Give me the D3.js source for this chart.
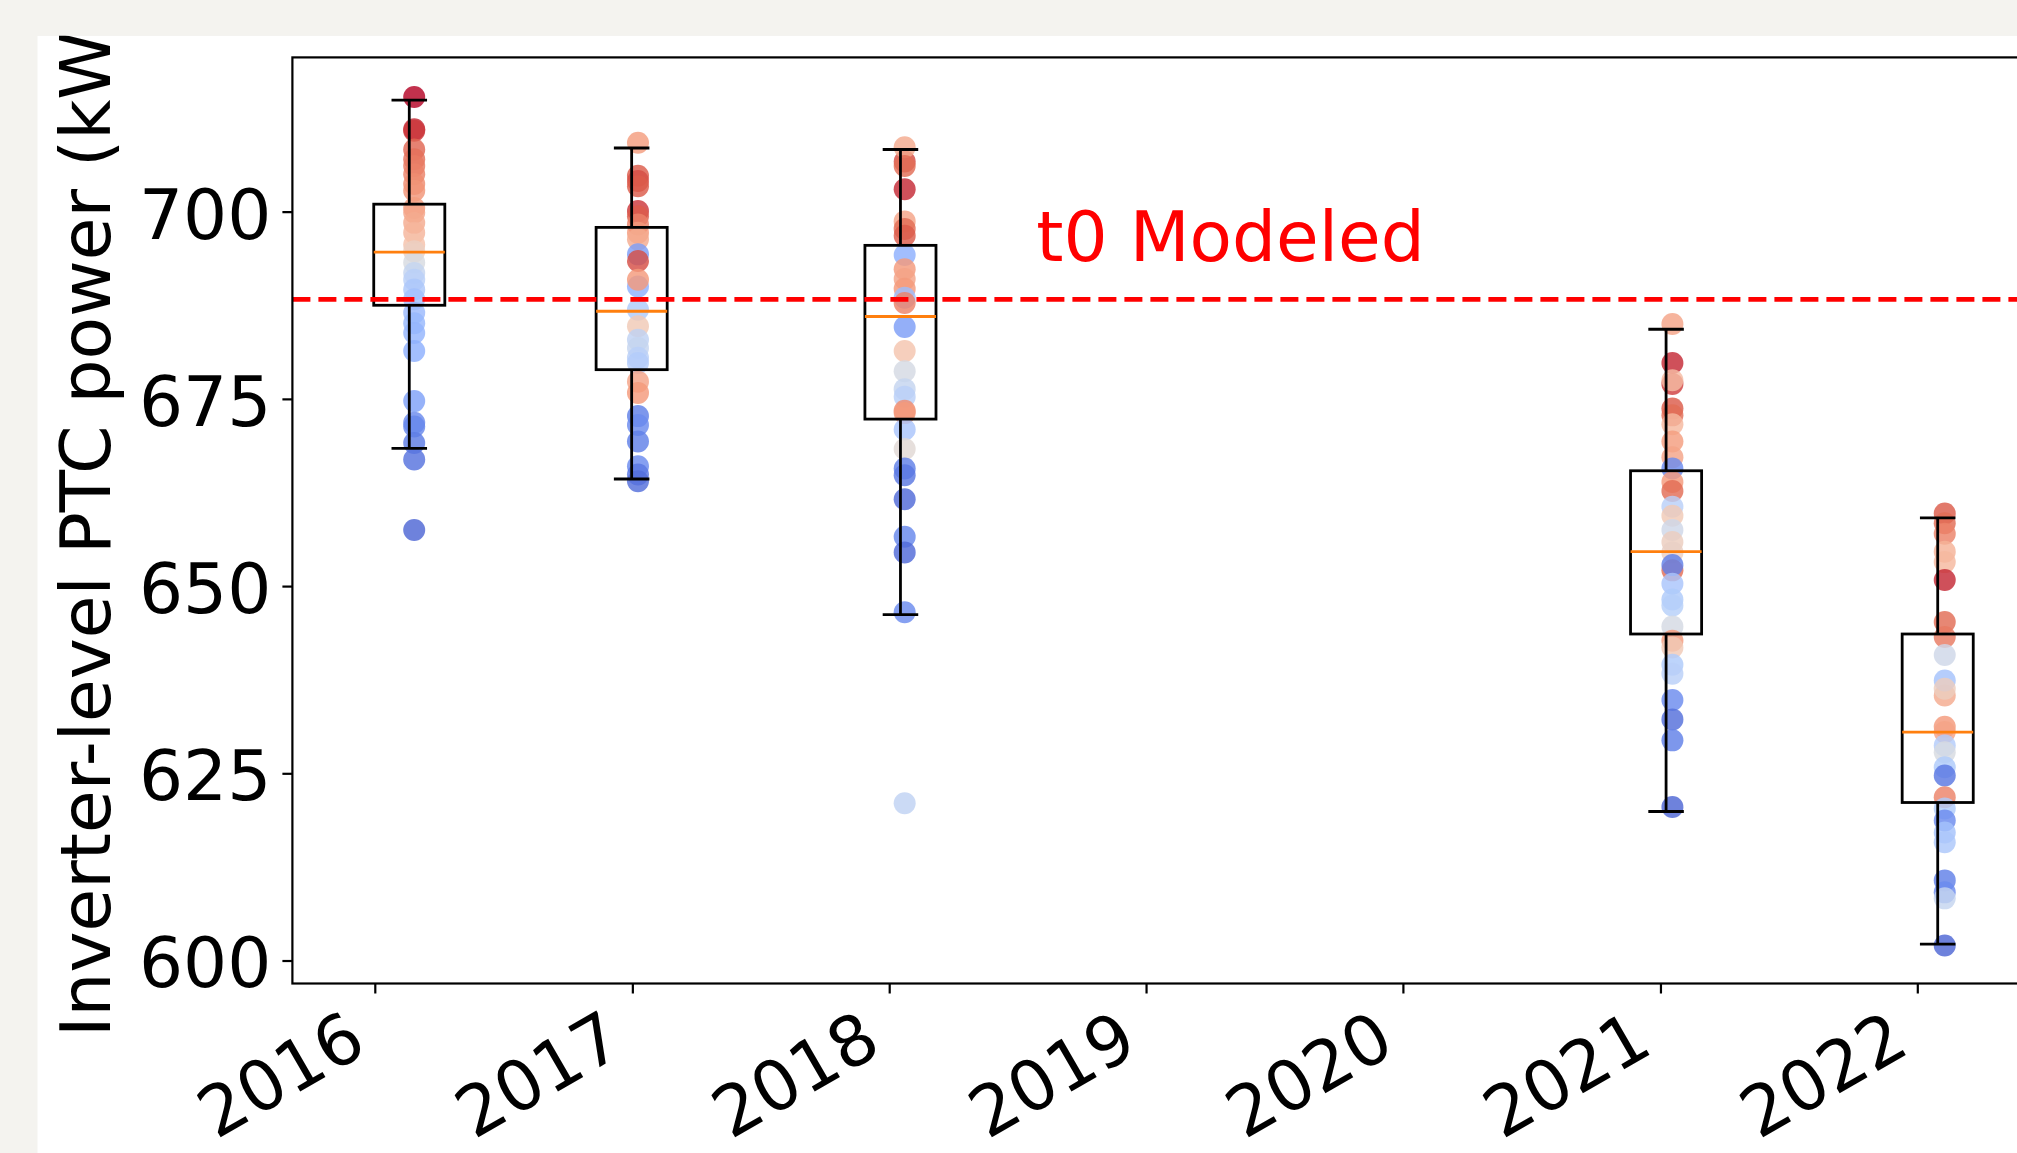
<!DOCTYPE html>
<html>
<head>
<meta charset="utf-8">
<script src="https://cdn.jsdelivr.net/npm/d3@7"></script>
<style>
  html, body { margin: 0; padding: 0; background: #f4f3ef; }
  svg { display: block; }
  text { font-family: "DejaVu Sans", sans-serif; }
</style>
</head>
<body>
<svg id="chart" width="2017" height="1153"></svg>
<script>
// ---- data ----
const boxYears = ["2016", "2017", "2018", "2021", "2022"];
const boxDates = ["2016-02-19", "2016-12-31", "2018-01-17", "2021-01-09", "2022-01-30"];
const pointDates = ["2016-02-26", "2017-01-09", "2018-01-23", "2021-01-18", "2022-02-09"];

const whiskerLow  = [668.4, 664.3, 646.2, 619.9, 602.2];
const quartile1   = [687.5, 678.9, 672.3, 643.6, 621.1];
const medians     = [694.6, 686.7, 686.0, 654.6, 630.5];
const quartile3   = [701.0, 697.9, 695.5, 665.4, 643.6];
const whiskerHigh = [714.9, 708.5, 708.3, 684.3, 659.1];

const power2016 = [715.3, 711.0, 710.8, 708.3, 707.0, 706.1, 705.0, 703.7, 702.8, 700.5, 699.9, 698.5, 697.2, 695.6, 694.7,
                   693.2, 691.8, 690.9, 689.6, 688.3, 686.5, 685.1, 683.8, 681.4, 674.7, 671.8, 671.3, 669.1, 666.9, 657.5];
const shade2016 = [1.0, 0.95, 0.93, 0.86, 0.84, 0.82, 0.8, 0.78, 0.76, 0.74, 0.72, 0.7, 0.67, 0.63, 0.57,
                   0.48, 0.42, 0.38, 0.34, 0.31, 0.29, 0.28, 0.27, 0.25, 0.21, 0.15, 0.14, 0.11, 0.09, 0.06];

const power2017 = [709.2, 704.8, 704.1, 703.4, 700.1, 699.4, 698.3, 697.2, 696.3, 694.3, 693.4, 690.0, 690.9, 686.9,
                   684.7, 682.9, 681.8, 680.5, 679.8, 677.3, 675.8, 672.7, 671.5, 669.3, 666.0, 664.9, 664.0];
const shade2017 = [0.74, 0.88, 0.9, 0.88, 0.93, 0.88, 0.8, 0.75, 0.7, 0.2, 0.9, 0.25, 0.75, 0.35,
                   0.6, 0.4, 0.42, 0.38, 0.36, 0.72, 0.75, 0.12, 0.15, 0.12, 0.15, 0.1, 0.08];

const power2018 = [706.7, 708.6, 706.1, 703.0, 698.7, 697.7, 696.8, 694.2, 692.3, 691.0, 689.7, 688.5, 687.8, 684.6, 681.4,
                   678.7, 676.3, 675.3, 673.4, 673.1, 670.9, 668.3, 665.7, 664.8, 661.6, 656.6, 654.5, 646.5, 621.0];
const shade2018 = [0.9, 0.7, 0.85, 0.95, 0.72, 0.85, 0.88, 0.25, 0.75, 0.72, 0.75, 0.3, 0.8, 0.2, 0.62,
                   0.47, 0.42, 0.38, 0.78, 0.75, 0.33, 0.52, 0.12, 0.1, 0.07, 0.14, 0.07, 0.15, 0.4];

const power2021 = [685.0, 679.8, 677.0, 677.5, 673.7, 672.8, 671.6, 669.3, 667.2, 665.7, 663.9, 662.7, 660.6, 659.4, 657.5, 655.9,
                   654.5, 652.1, 652.8, 650.3, 648.2, 647.4, 644.6, 642.7, 641.8, 639.5, 638.3, 634.8, 632.2, 629.4, 620.5];
const shade2021 = [0.72, 0.95, 0.92, 0.65, 0.88, 0.85, 0.66, 0.74, 0.72, 0.15, 0.75, 0.85, 0.38, 0.6, 0.45, 0.58,
                   0.56, 0.85, 0.12, 0.33, 0.35, 0.37, 0.47, 0.75, 0.6, 0.35, 0.38, 0.15, 0.08, 0.12, 0.06];

const power2022 = [659.7, 658.4, 657.0, 654.6, 653.2, 650.8, 645.2, 643.2, 640.8, 635.4, 637.4, 636.3, 631.2, 630.5,
                   628.7, 627.8, 625.8, 624.7, 621.8, 620.3, 618.7, 617.1, 615.8, 610.7, 609.1, 608.3, 602.0];
const shade2022 = [0.88, 0.85, 0.8, 0.68, 0.66, 0.95, 0.85, 0.82, 0.45, 0.7, 0.32, 0.58, 0.75, 0.72,
                   0.36, 0.48, 0.35, 0.1, 0.8, 0.35, 0.15, 0.32, 0.34, 0.12, 0.15, 0.42, 0.06];

const pointValues = [power2016, power2017, power2018, power2021, power2022];
const pointShades = [shade2016, shade2017, shade2018, shade2021, shade2022];

const xTickYears = ["2016", "2017", "2018", "2019", "2020", "2021", "2022"];
const yTickValues = [600, 625, 650, 675, 700];

const t0Modeled = 688.3;
const t0Label = "t0 Modeled";
const t0LabelAt = ["2018-07-29", 693.45];
const yLabel = "Inverter-level PTC power (kW)";

// ---- layout ----
const W = 2017, H = 1153;
const fig = {left: 37.3, top: 35.7};
const plot = {left: 292.4, top: 57.4, right: 2140, bottom: 983.5};
const FS = 69.4;
const BOX_DAYS = 101;
const DAY = 86400000;

const parseDay = d3.utcParse("%Y-%m-%d");

// matplotlib coolwarm
const coolwarm = d3.piecewise(d3.interpolateRgb, [
  "#3b4cc0", "#6282ea", "#8db0fe", "#b8d0f9", "#dddcdc", "#f5c4ad", "#f49a7b", "#de604d", "#b40426"
]);

const svg = d3.select("#chart");

svg.append("defs").append("clipPath").attr("id", "figclip")
  .append("rect").attr("x", fig.left).attr("y", fig.top)
  .attr("width", W - fig.left).attr("height", H - fig.top);

const root = svg.append("g").attr("clip-path", "url(#figclip)");
root.append("rect").attr("x", fig.left).attr("y", fig.top)
  .attr("width", W - fig.left).attr("height", H - fig.top).attr("fill", "#ffffff");

const xScale = d3.scaleUtc()
  .domain([parseDay("2016-01-01"), parseDay("2022-01-01")])
  .range([374.8, 1917.3]);

const yScale = d3.scaleLinear()
  .domain([596.93, 720.6])
  .range([plot.bottom, plot.top]);

// scatter points
boxYears.forEach((yr, i) => {
  const px = xScale(parseDay(pointDates[i]));
  root.append("g").selectAll("circle")
    .data(pointValues[i].map((v, j) => ({v: v, c: pointShades[i][j]})))
    .enter()
    .append("circle")
      .attr("cx", px)
      .attr("cy", d => yScale(d.v))
      .attr("r", 11)
      .attr("fill", d => coolwarm(d.c))
      .attr("fill-opacity", 0.82);
});

// boxes
const boxG = root.append("g");
boxYears.forEach((yr, i) => {
  const c = parseDay(boxDates[i]);
  const cx = xScale(c);
  const x0 = xScale(new Date(+c - BOX_DAYS / 2 * DAY));
  const x1 = xScale(new Date(+c + BOX_DAYS / 2 * DAY));
  const k0 = xScale(new Date(+c - BOX_DAYS / 4 * DAY));
  const k1 = xScale(new Date(+c + BOX_DAYS / 4 * DAY));
  const g = boxG.append("g").attr("stroke-width", 2.8).attr("fill", "none");

  g.append("line").attr("x1", cx).attr("x2", cx)
    .attr("y1", yScale(quartile3[i])).attr("y2", yScale(whiskerHigh[i])).attr("stroke", "black");
  g.append("line").attr("x1", cx).attr("x2", cx)
    .attr("y1", yScale(quartile1[i])).attr("y2", yScale(whiskerLow[i])).attr("stroke", "black");
  g.append("line").attr("x1", k0).attr("x2", k1)
    .attr("y1", yScale(whiskerHigh[i])).attr("y2", yScale(whiskerHigh[i])).attr("stroke", "black");
  g.append("line").attr("x1", k0).attr("x2", k1)
    .attr("y1", yScale(whiskerLow[i])).attr("y2", yScale(whiskerLow[i])).attr("stroke", "black");
  g.append("rect")
    .attr("x", x0).attr("width", x1 - x0)
    .attr("y", yScale(quartile3[i])).attr("height", yScale(quartile1[i]) - yScale(quartile3[i]))
    .attr("stroke", "black");
  g.append("line").attr("x1", x0).attr("x2", x1)
    .attr("y1", yScale(medians[i])).attr("y2", yScale(medians[i])).attr("stroke", "#ff7f0e");
});

// t0 modeled line + label
root.append("line")
  .attr("x1", plot.left).attr("x2", plot.right)
  .attr("y1", yScale(t0Modeled)).attr("y2", yScale(t0Modeled))
  .attr("stroke", "#ff0000").attr("stroke-width", 4.8)
  .attr("stroke-dasharray", "18,8");

root.append("text")
  .attr("x", xScale(parseDay(t0LabelAt[0])))
  .attr("y", yScale(t0LabelAt[1]))
  .attr("fill", "#ff0000")
  .style("font-size", FS + "px")
  .text(t0Label);

// axes frame
root.append("rect")
  .attr("x", plot.left).attr("y", plot.top)
  .attr("width", plot.right - plot.left).attr("height", plot.bottom - plot.top)
  .attr("fill", "none").attr("stroke", "black").attr("stroke-width", 2.2);

const yAxis = root.append("g")
  .attr("transform", "translate(" + plot.left + ",0)")
  .call(d3.axisLeft(yScale).tickValues(yTickValues).tickSize(10).tickPadding(11).tickSizeOuter(0));
yAxis.select(".domain").remove();
yAxis.selectAll("line").attr("stroke-width", 2.2);
yAxis.selectAll("text")
  .attr("dy", "0.38em")
  .attr("fill", "black")
  .style("font-size", FS + "px");

const xAxis = root.append("g")
  .attr("transform", "translate(0," + plot.bottom + ")")
  .call(d3.axisBottom(xScale)
    .tickValues(xTickYears.map(y => parseDay(y + "-01-01")))
    .tickFormat(d3.utcFormat("%Y"))
    .tickSize(10).tickSizeOuter(0));
xAxis.select(".domain").remove();
xAxis.selectAll("line").attr("stroke-width", 2.2);
xAxis.selectAll("text")
  .attr("x", 0).attr("y", 0).attr("dy", 0)
  .attr("transform", "translate(-6,68) rotate(-30)")
  .style("text-anchor", "end")
  .attr("fill", "black")
  .style("font-size", FS + "px");

root.append("text")
  .attr("transform", "translate(110," + (plot.top + plot.bottom) / 2 + ") rotate(-90)")
  .attr("text-anchor", "middle")
  .style("font-size", FS + "px")
  .text(yLabel);
</script>
</body>
</html>
